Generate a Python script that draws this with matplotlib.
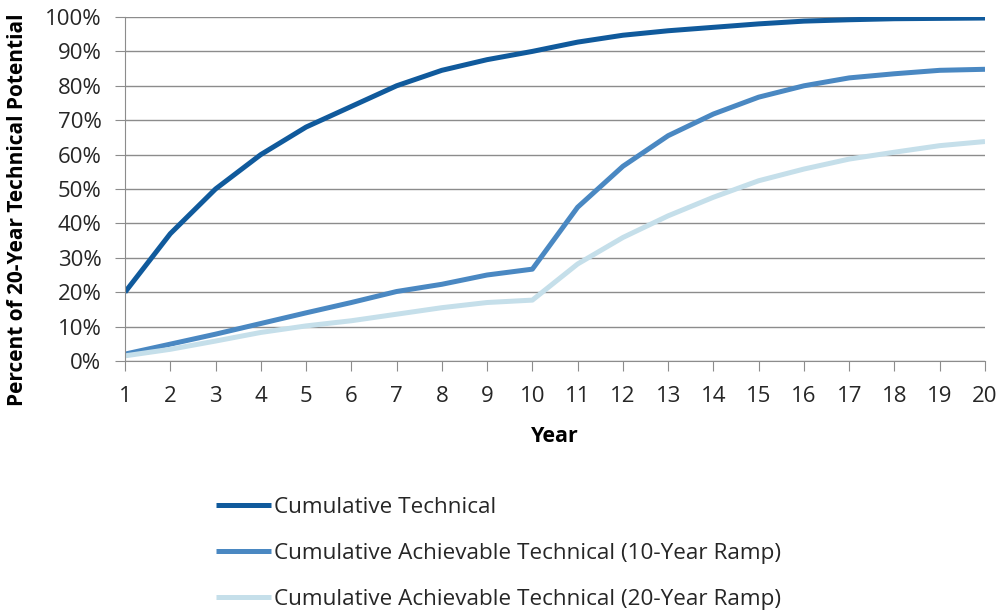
import numpy as np
import matplotlib.pyplot as plt
from matplotlib.ticker import PercentFormatter

# Data (percent of 20-year technical potential)
years = np.arange(1, 21)
cum_technical = [20, 37, 50, 60, 68, 74, 80, 84.5, 87.6, 90,
                 92.7, 94.7, 96, 97, 98, 98.8, 99.2, 99.5, 99.6, 99.7]
cum_ach_10 = [2, 4.9, 7.8, 10.9, 14, 17, 20.2, 22.3, 25, 26.7,
              44.7, 56.6, 65.5, 71.8, 76.7, 80, 82.3, 83.5, 84.5, 84.8]
cum_ach_20 = [1.5, 3.4, 5.8, 8.3, 10.2, 11.7, 13.6, 15.5, 17, 17.7,
              28.2, 35.9, 42.2, 47.6, 52.4, 55.8, 58.7, 60.7, 62.6, 63.8]
labels = ['Cumulative Technical',
          'Cumulative Achievable Technical (10-Year Ramp)',
          'Cumulative Achievable Technical (20-Year Ramp)']
colors = ['#105a9c', '#4a88c2', '#c5dfea']

plt.rcParams['font.family'] = ['Open Sans', 'DejaVu Sans']

fig = plt.figure(figsize=(10.01, 6.16), dpi=100)
W, H = 1001, 616
ax = fig.add_axes([125 / W, 1 - 361 / H, 860 / W, 344 / H])

for vals, lab, c in zip([cum_technical, cum_ach_10, cum_ach_20], labels, colors):
    ax.plot(years, vals, color=c, lw=3.6, label=lab, solid_capstyle='butt')

ax.set_xlim(1, 20)
ax.set_ylim(0, 100)
ax.set_xticks(years)
ax.set_yticks(np.arange(0, 101, 10))
ax.yaxis.set_major_formatter(PercentFormatter(decimals=0))
ax.yaxis.grid(True, color='#8c8c8c', lw=1.0)
ax.set_axisbelow(True)

for s in ['top', 'right']:
    ax.spines[s].set_visible(False)
for s in ['left', 'bottom']:
    ax.spines[s].set_color('#8c8c8c')
ax.tick_params(colors='#8c8c8c', labelcolor='#262626', labelsize=16, length=7)
ax.tick_params(axis='x', pad=11)
ax.tick_params(axis='y', pad=10)

ax.set_xlabel('Year', fontsize=15.5, fontweight='bold', labelpad=14)
ax.set_ylabel('Percent of 20-Year Technical Potential', fontsize=15,
              fontweight='bold')
ax.yaxis.set_label_coords(-97 / 860, 0.44)

fig.legend(loc='upper left', bbox_to_anchor=(196 / W, 1 - 477 / H),
           frameon=False, fontsize=16.2, handlelength=2.45, handletextpad=0.1,
           labelspacing=1.11, labelcolor='#262626')

fig.savefig('out.png', dpi=100)
